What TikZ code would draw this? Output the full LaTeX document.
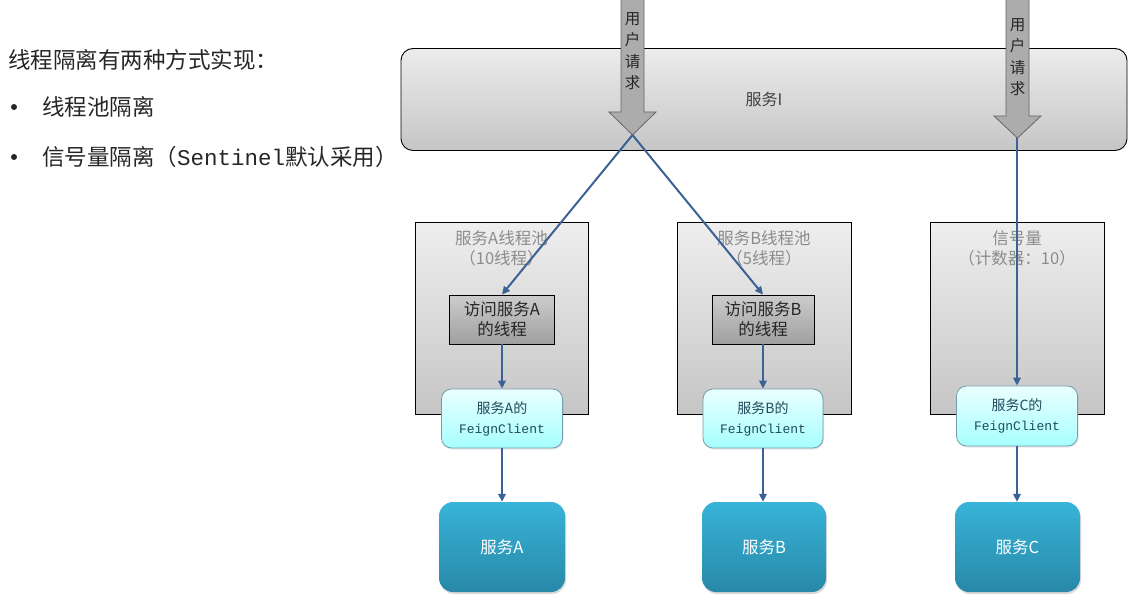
\documentclass[tikz,border=0pt]{standalone}
\usepackage{fontspec}
\setmainfont{Noto Sans CJK SC}
\newfontfamily\monof{Liberation Mono}
\usetikzlibrary{arrows.meta,shadows}
\definecolor{lineblue}{HTML}{3A6296}
\definecolor{poolgray}{HTML}{8C8C8C}
\definecolor{feigntext}{HTML}{1F4A5A}
\tikzset{
  box/.style={draw=black, line width=0.9pt, inner sep=0pt, align=center},
  svcI/.style={box, rounded corners=12pt, top color=gray!15, bottom color=gray!45, text=black!75, font=\fontsize{16}{19}\selectfont},
  pool/.style={box, top color=gray!13, bottom color=gray!45},
  poollabel/.style={text=poolgray, align=center, inner sep=0pt, font=\fontsize{16.5}{20}\selectfont},
  thread/.style={box, top color=gray!40, bottom color=gray!75, text=black!85, font=\fontsize{16.5}{20}\selectfont},
  feign/.style={draw=cyan!50!black!70, line width=0.8pt, rounded corners=10pt, inner sep=0pt, align=center,
    top color=cyan!8, bottom color=cyan!35, text=feigntext, font=\fontsize{14}{20}\selectfont,
    drop shadow={opacity=0.2, shadow xshift=1pt, shadow yshift=-1.5pt}},
  service/.style={rounded corners=14pt, inner sep=0pt, top color={rgb,255:red,56;green,180;blue,216}, bottom color={rgb,255:red,40;green,136;blue,168},
    text=white, font=\fontsize{16.5}{20}\selectfont,
    drop shadow={opacity=0.3, shadow xshift=1pt, shadow yshift=-2pt}},
  blockarrow/.style={draw=black!60, line width=0.8pt, fill=gray!65},
  arrowtext/.style={align=center, inner sep=0pt, text=black!85, font=\fontsize{15.5}{21.5}\selectfont},
  conn/.style={draw=lineblue, line width=2pt, -{Triangle[length=8pt,width=7.5pt]}},
  lefttext/.style={anchor=west, inner sep=0pt, text=black!85, font=\fontsize{22.5}{26}\selectfont},
  bulletdot/.style={circle, fill=black!85, inner sep=0pt, minimum size=6pt}
}
\begin{document}
\begin{tikzpicture}[x=1pt,y=-1pt]
\useasboundingbox (0,0) rectangle (1138,599);

% left text
\node[lefttext] (t1) at (8,60) {线程隔离有两种方式实现：};
\node[bulletdot] (b1) at (14,107) {};
\node[lefttext] (t2) at (42,107) {线程池隔离};
\node[bulletdot] (b2) at (14,157) {};
\node[lefttext] (t3) at (42,157) {信号量隔离（{\monof Sentinel}默认采用）};

% service I
\node[svcI, minimum width=726pt, minimum height=102pt] (I) at (764,99.5) {服务I};

% pools
\node[pool, minimum width=173pt, minimum height=192pt] (PA) at (501.5,318) {};
\node[pool, minimum width=174pt, minimum height=192pt] (PB) at (764,318) {};
\node[pool, minimum width=174pt, minimum height=192pt] (PC) at (1017,318) {};
\node[poollabel, anchor=north] (LA) at (501.5,230) {服务A线程池\\（10线程）};
\node[poollabel, anchor=north] (LB) at (764,230) {服务B线程池\\（5线程）};
\node[poollabel, anchor=north] (LC) at (1017,230) {信号量\\（计数器：10）};

% thread boxes
\node[thread, minimum width=105pt, minimum height=49pt] (TA) at (502,319.5) {访问服务A\\的线程};
\node[thread, minimum width=102pt, minimum height=49pt] (TB) at (763,319.5) {访问服务B\\的线程};

% feign clients
\node[feign, minimum width=121pt, minimum height=59pt] (FA) at (502,418.5) {服务A的\\{\monof\fontsize{13}{20}\selectfont FeignClient}};
\node[feign, minimum width=120pt, minimum height=59pt] (FB) at (763,418.5) {服务B的\\{\monof\fontsize{13}{20}\selectfont FeignClient}};
\node[feign, minimum width=121pt, minimum height=60pt] (FC) at (1017,416) {服务C的\\{\monof\fontsize{13}{20}\selectfont FeignClient}};

% services
\node[service, minimum width=126pt, minimum height=90pt] (SA) at (502,547) {服务A};
\node[service, minimum width=124pt, minimum height=90pt] (SB) at (764,547) {服务B};
\node[service, minimum width=125pt, minimum height=90pt] (SC) at (1017.5,547) {服务C};

% block arrows (user requests)
\draw[blockarrow] (621,-2) -- (644,-2) -- (644,112) -- (656,112) -- (632.5,135) -- (609,112) -- (621,112) -- cycle;
\coordinate (tip1) at (632.5,135);
\node[arrowtext, anchor=north] (u1) at (632.5,12) {用\\户\\请\\求};
\draw[blockarrow] (1006,-2) -- (1029,-2) -- (1029,116) -- (1041,116) -- (1017.5,138) -- (994,116) -- (1006,116) -- cycle;
\coordinate (tip2) at (1017,138);
\node[arrowtext, anchor=north] (u2) at (1017.5,18) {用\\户\\请\\求};

% connectors
\draw[conn] (tip1) -- (TA.north);
\draw[conn] (tip1) -- (TB.north);
\draw[conn] (tip2) -- (tip2 |- FC.north);
\draw[conn] (TA.south) -- (TA.south |- FA.north);
\draw[conn] (TB.south) -- (TB.south |- FB.north);
\draw[conn] (FA.south) -- (FA.south |- SA.north);
\draw[conn] (FB.south) -- (FB.south |- SB.north);
\draw[conn] (FC.south) -- (FC.south |- SC.north);
\end{tikzpicture}
\end{document}
